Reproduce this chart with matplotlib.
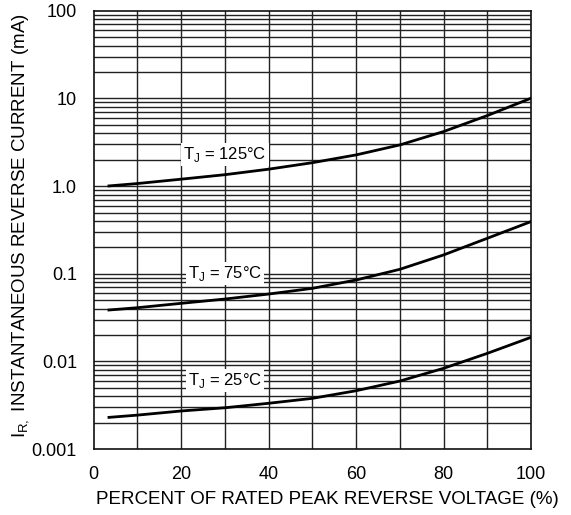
import matplotlib.pyplot as plt
from matplotlib.ticker import FixedLocator, NullFormatter

# percent of rated peak reverse voltage
pct = [3.5, 10, 20, 30, 40, 50, 60, 70, 80, 90, 100]

# reverse current (mA) per junction temperature
ir_125 = [1.005, 1.07, 1.20, 1.35, 1.56, 1.85, 2.27, 2.95, 4.19, 6.38, 10.07]
ir_75 = [0.0386, 0.041, 0.046, 0.0515, 0.0587, 0.0682, 0.0849, 0.1124, 0.164, 0.254, 0.394]
ir_25 = [0.0023, 0.00244, 0.00272, 0.00296, 0.00333, 0.00379, 0.00463, 0.00597, 0.00834, 0.01236, 0.01884]

curve_labels = ["T$_\\mathregular{J}$ = 125°C", "T$_\\mathregular{J}$ = 75°C", "T$_\\mathregular{J}$ = 25°C"]
label_pos = [(30, 2.27), (30, 0.1), (30, 0.006)]

y_ticks = [0.001, 0.01, 0.1, 1, 10, 100]
y_ticklabels = ["0.001", "0.01", "0.1", "1.0", "10", "100"]
x_ticks = [0, 20, 40, 60, 80, 100]

plt.rcParams['font.family'] = ['Liberation Sans', 'DejaVu Sans']
plt.rcParams['mathtext.fontset'] = 'custom'
plt.rcParams['mathtext.rm'] = 'Liberation Sans'

fig = plt.figure(figsize=(5.71, 5.15), dpi=100, facecolor='w')
axe = fig.add_axes([0.164, 0.128, 0.766, 0.851])

axe.set_yscale('log')
axe.set_xlim(0, 100)
axe.set_ylim(0.001, 100)

# grid: every 10 % and every 1..9 step of each decade
minor_y = [m * 10.0 ** e for e in range(-3, 2) for m in range(2, 10)]
for xv in range(10, 100, 10):
    axe.axvline(xv, color='#222222', lw=1.0, zorder=1)
for yv in y_ticks[1:-1] + minor_y:
    axe.axhline(yv, color='#222222', lw=1.0, zorder=1)

for ir in (ir_125, ir_75, ir_25):
    axe.plot(pct, ir, color='black', lw=2.0, zorder=3, solid_joinstyle='round')

for text, (xp, yp) in zip(curve_labels, label_pos):
    axe.text(xp, yp, text, ha='center', va='center', fontsize=12, zorder=4,
             bbox=dict(facecolor='white', edgecolor='none', pad=1.5))

axe.yaxis.set_major_locator(FixedLocator(y_ticks))
axe.yaxis.set_minor_locator(FixedLocator(minor_y))
axe.yaxis.set_minor_formatter(NullFormatter())
axe.set_yticks(y_ticks)
axe.set_yticklabels(y_ticklabels)
axe.set_xticks(x_ticks)
axe.tick_params(which='both', length=0, labelsize=13, pad=12)

for spine in axe.spines.values():
    spine.set_linewidth(1.2)
    spine.set_color('#111111')

axe.set_xlabel("PERCENT OF RATED PEAK REVERSE VOLTAGE (%)", fontsize=13.5)
axe.set_ylabel("I$_\\mathregular{R,}$ INSTANTANEOUS REVERSE CURRENT (mA)", fontsize=13.5)
axe.xaxis.set_label_coords(0.534, -0.095)
axe.yaxis.set_label_coords(-0.14, 0.51)

plt.savefig("out.png", dpi=100)
